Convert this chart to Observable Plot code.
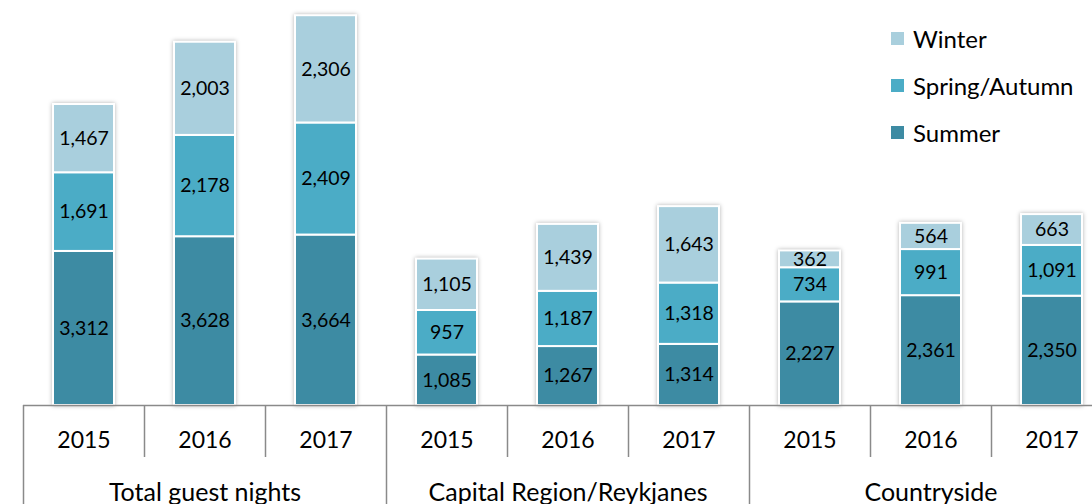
<!DOCTYPE html>
<html>
<head>
<meta charset="utf-8">
<script src="https://cdn.jsdelivr.net/npm/d3@7"></script>
<script src="https://cdn.jsdelivr.net/npm/@observablehq/plot@0.6"></script>
<style>
  html, body { margin: 0; padding: 0; background: #fff; }
  #wrap { position: relative; width: 1092px; height: 504px; overflow: hidden; font-family: Lato, "Open Sans", sans-serif; }
  #legend { position: absolute; left: 891px; top: 0; }
  .item { position: absolute; left: 0; white-space: nowrap; font-size: 24px; color: #000; display: flex; align-items: center; height: 28px; }
  .sw { width: 13px; height: 13px; margin-right: 9px; display: inline-block; }
</style>
</head>
<body>
<div id="wrap"><div id="legend"></div></div>
<script>
const groups = ["Total guest nights", "Capital Region/Reykjanes", "Countryside"];
const years = ["2015", "2016", "2017"];
const seasons = ["Summer", "Spring/Autumn", "Winter"];
const colors = ["#3D8BA3", "#4BACC6", "#A9CFDD"];
const summer = [3312, 3628, 3664, 1085, 1267, 1314, 2227, 2361, 2350];
const spring = [1691, 2178, 2409, 957, 1187, 1318, 734, 991, 1091];
const winter = [1467, 2003, 2306, 1105, 1439, 1643, 362, 564, 663];

const cats = [];
groups.forEach(g => years.forEach(y => cats.push({key: g + "|" + y, group: g, year: y})));
const seriesVals = [summer, spring, winter];
const data = [];
seasons.forEach((s, si) => cats.forEach((c, i) => data.push({key: c.key, season: s, value: seriesVals[si][i]})));

const W = 1092, H = 504, base = 405, x0 = 23, x1 = 1112;
const step = (x1 - x0) / cats.length;
const groupStarts = cats.filter(c => c.year === years[0]);
const yearDividers = cats.filter(c => c.year !== years[0]);
const groupMids = cats.filter(c => c.year === years[1]);
const fmt = d3.format(",");

const plot = Plot.plot({
  width: W, height: H,
  marginTop: 0, marginBottom: 0, marginLeft: 0, marginRight: 0,
  style: {fontFamily: "Lato, 'Open Sans', sans-serif", background: "transparent"},
  x: {domain: cats.map(c => c.key), range: [x0, x1], paddingInner: 0.5, paddingOuter: 0.25, axis: null},
  y: {domain: [0, 8706], range: [base, 0], axis: null},
  color: {domain: seasons, range: colors},
  marks: [
    Plot.barY(data, {x: "key", y: "value", fill: "season", order: seasons, stroke: "white", strokeWidth: 2, className: "bars"}),
    Plot.text(data, Plot.stackY({x: "key", y: "value", z: "season", order: seasons, text: d => fmt(d.value), fill: "#000", fontSize: 19.5})),
    Plot.ruleY([0], {stroke: "#8a8a8a", strokeWidth: 1.5, insetLeft: x0}),
    Plot.ruleX(groupStarts, {x: "key", dx: -step / 2, stroke: "#8a8a8a", strokeWidth: 1.5, insetTop: base}),
    Plot.ruleX(cats.slice(-1), {x: "key", dx: step / 2, stroke: "#8a8a8a", strokeWidth: 1.5, insetTop: base}),
    Plot.ruleX(yearDividers, {x: "key", dx: -step / 2, stroke: "#8a8a8a", strokeWidth: 1.5, insetTop: base, insetBottom: 47}),
    Plot.text(cats, {x: "key", text: "year", frameAnchor: "top", dy: 440, fontSize: 23, fill: "#000", lineAnchor: "middle"}),
    Plot.text(groupMids, {x: "key", text: "group", frameAnchor: "top", dy: 492, fontSize: 25, fill: "#000", lineAnchor: "middle"})
  ]
});
document.getElementById("wrap").prepend(plot);
d3.select(plot).selectAll("g.bars, g[aria-label='bar']").style("filter", "drop-shadow(0px 0px 2px rgba(0,0,0,0.3))");

const legend = document.getElementById("legend");
const legendOrder = seasons.slice().reverse();
legendOrder.forEach((s, i) => {
  const it = document.createElement("div");
  it.className = "item";
  it.style.top = (38 + i * 47 - 14) + "px";
  const sw = document.createElement("span");
  sw.className = "sw";
  sw.style.background = colors[seasons.indexOf(s)];
  it.appendChild(sw);
  it.appendChild(document.createTextNode(s));
  legend.appendChild(it);
});
</script>
</body>
</html>
